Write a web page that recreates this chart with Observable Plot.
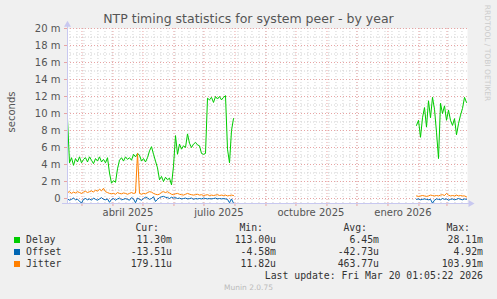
<!DOCTYPE html>
<html><head><meta charset="utf-8">
<script src="https://cdn.jsdelivr.net/npm/d3@7"></script>
<script src="https://cdn.jsdelivr.net/npm/@observablehq/plot@0.6"></script>
<style>
html,body{margin:0;padding:0;background:#f0f0f0;}
#wrap{position:relative;width:497px;height:299px;overflow:hidden;background:#f0f0f0;}
#chart{position:absolute;left:0;top:0;}
.t{position:absolute;white-space:pre;}
.title{left:0;width:497px;text-align:center;top:11px;font:12.5px "DejaVu Sans";color:#555;line-height:16px;}
.ylab{font:10px "DejaVu Sans";color:#555;left:11px;top:112px;transform:translate(-50%,-50%) rotate(-90deg);}
.rrd{font:7.5px "DejaVu Sans";color:#ccc;left:487px;top:53px;transform:translate(-50%,-50%) rotate(90deg);}
.lg{font:9.8px "DejaVu Sans Mono";color:#333;line-height:12px;}
.sq{position:absolute;width:6px;height:6px;}
.munin{left:0;width:497px;text-align:center;top:283px;font:7.5px "DejaVu Sans";color:#bbb;line-height:10px;}
</style>
</head><body>
<div id="wrap"></div>
<script>
// ---- data ----
const title = "NTP timing statistics for system peer - by year";
const yLabel = "seconds";
const domainStart = "2025-02-14T13:00:00Z";
const domainEnd = "2026-03-21T13:00:00Z";
const stepDays = 2;
const seg1Start = "2025-02-14T13:00:00Z";
const seg2Start = "2026-01-29T13:00:00Z";
// values in milliseconds (m)
const delay1 = [9.4,4.2,4.8,3.9,4.7,4.3,4.9,4.2,4.6,4.8,4.3,4.9,4.5,4.1,4.7,4.4,4.9,4.3,4.6,4.2,4.8,3.0,1.8,2.1,1.9,3.5,
  4.5,4.8,4.4,4.9,4.6,4.8,4.5,5.2,4.9,5.3,5.1,4.4,4.7,4.3,4.8,5.6,6.1,5.2,4.4,3.6,
  2.2,2.6,2.0,2.5,2.2,2.4,1.6,3.8,7.4,5.2,6.4,5.8,6.2,6.0,7.6,6.5,6.0,6.4,6.6,6.3,
  6.2,5.3,5.2,5.3,11.8,11.6,11.9,11.3,12.0,11.7,12.0,11.6,11.9,12.1,5.8,4.2,8.0,9.4];
const offset1 = [-0.05,-0.2,-0.1,0.05,-0.15,-0.1,-0.3,-0.55,-0.1,0.0,
  -0.15,-0.05,-0.2,0.05,-0.1,-0.2,-0.05,0.1,-0.1,-0.15,
  -0.05,-0.45,-0.1,0.0,-0.2,-0.05,0.05,-0.15,-0.1,0.0,
  -0.1,-0.2,0.1,-0.05,-0.5,0.05,-0.1,-0.2,0.0,0.15,
  0.05,-0.1,0.0,0.2,-0.35,-0.1,0.1,0.2,0.25,0.15,
  0.1,0.0,0.15,0.05,0.1,0.0,0.05,-0.05,0.0,0.05,
  -0.05,0.0,0.05,-0.1,0.0,-0.05,0.0,-0.05,0.05,0.0,
  -0.05,0.0,-0.05,0.0,0.05,-0.05,0.0,-0.05,0.0,-0.05,
  -0.1,-0.5,-0.05,-0.55];
const jitter1 = [0.7,0.8,0.6,0.75,0.65,0.8,0.7,0.6,0.75,0.85,
  0.7,0.8,0.9,0.75,1.0,0.85,1.1,0.9,1.2,0.8,
  0.7,0.6,0.55,0.6,0.5,0.7,0.6,0.55,0.65,0.6,
  0.5,0.6,0.7,0.6,0.65,5.3,0.6,0.5,0.6,0.55,
  0.7,0.8,0.75,0.6,0.5,0.45,0.5,0.75,0.8,0.7,
  0.8,0.65,0.5,0.45,0.55,0.6,0.5,0.45,0.4,0.5,
  0.6,0.5,0.45,0.4,0.45,0.5,0.4,0.45,0.35,0.4,
  0.45,0.35,0.4,0.35,0.4,0.45,0.35,0.4,0.35,0.4,
  0.3,0.35,0.4,0.35];
const delay2 = [8.6,9.2,7.2,9.5,10.7,8.4,11.5,9.5,11.9,10.5,7.8,4.7,11.2,10.0,10.9,9.2,10.4,9.2,8.6,9.4,7.5,8.8,9.8,10.6,11.9,11.3];
const offset2 = [-0.1,-0.05,-0.15,-0.1,-0.05,-0.1,-0.15,-0.1,-0.55,-0.2,-0.05,-0.1,-0.15,0.0,-0.1,-0.05,-0.2,-0.1,-0.05,-0.15,-0.1,0.0,-0.1,-0.15,-0.05,-0.1];
const jitter2 = [0.3,0.25,0.3,0.35,0.3,0.25,0.3,0.4,0.35,0.3,0.35,0.3,0.4,0.45,0.35,0.6,0.4,0.3,0.35,0.3,0.4,0.3,0.35,0.3,0.3,0.2];

const yTicks = [0,2,4,6,8,10,12,14,16,18,20];
const yTickLabels = ["0","2 m","4 m","6 m","8 m","10 m","12 m","14 m","16 m","18 m","20 m"];
const yMinorTicks = [1,3,5,7,9,11,13,15,17,19];
const xLabelDates = ["2025-04-16T00:00:00Z","2025-07-16T00:00:00Z","2025-10-16T00:00:00Z","2026-01-16T00:00:00Z"];
const xLabels = ["abril 2025","julio 2025","octubre 2025","enero 2026"];

const seriesNames = ["Delay","Offset","Jitter"];
const seriesColors = ["#00cc00","#0066b3","#ff8000"];
const curVals = ["11.30m","-13.51u","179.11u"];
const minVals = ["113.00u","-4.58m","11.82u"];
const avgVals = ["6.45m","-42.73u","463.77u"];
const maxVals = ["28.11m","4.92m","103.91m"];
const lastUpdate = "Last update: Fri Mar 20 01:05:22 2026";
const sideText = "RRDTOOL / TOBI OETIKER";
const footer = "Munin 2.0.75";

// ---- build rows ----
const DAY = 86400000;
function rows(vals, startStr, seg) {
  const s = new Date(startStr).getTime();
  return vals.map((v, i) => ({date: new Date(s + i * stepDays * DAY), v, seg}));
}
const delayRows = [...rows(delay1, seg1Start, 1), ...rows(delay2, seg2Start, 2)];
const offsetRows = [...rows(offset1, seg1Start, 1), ...rows(offset2, seg2Start, 2)];
const jitterRows = [...rows(jitter1, seg1Start, 1), ...rows(jitter2, seg2Start, 2)];

const x0 = new Date(domainStart), x1 = new Date(domainEnd);
const yMin = -0.588, yMax = 20;
const months = d3.utcMonth.range(x0, x1);
const weeks = d3.utcMonday.range(x0, x1);
const axisCol = "#c8c8f0";
const majCol = "#e8a4a4";
const minCol = "#d2d2d2";

const chart = Plot.plot({
  width: 497, height: 215,
  marginLeft: 67, marginRight: 30, marginTop: 28, marginBottom: 12,
  x: {type: "utc", domain: [x0, x1]},
  y: {domain: [yMin, yMax]},
  style: {background: "transparent", fontFamily: "DejaVu Sans", fontSize: "10px", color: "#555", overflow: "visible"},
  marks: [
    Plot.frame({fill: "white", stroke: "none"}),
    Plot.gridX({ticks: weeks, stroke: minCol, strokeOpacity: 1, strokeDasharray: "1,2"}),
    Plot.gridY({ticks: yMinorTicks, stroke: minCol, strokeOpacity: 1, strokeDasharray: "1,2"}),
    Plot.gridX({ticks: months, stroke: majCol, strokeOpacity: 1, strokeDasharray: "1,2"}),
    Plot.gridY({ticks: yTicks, stroke: majCol, strokeOpacity: 1, strokeDasharray: "1,2"}),
    Plot.axisY({ticks: yTicks, tickFormat: (d, i) => yTickLabels[yTicks.indexOf(d)], tickSize: 3, tickPadding: 4, stroke: majCol, fill: "#555", label: null}),
    Plot.axisX({ticks: months, tickSize: 3, tickFormat: () => "", stroke: majCol, label: null}),
    Plot.axisX({ticks: xLabelDates.map(d => new Date(d)), tickSize: 0, tickPadding: 5, tickFormat: d => xLabels[xLabelDates.findIndex(s => new Date(s).getTime() === d.getTime())], fill: "#555", label: null}),
    Plot.line(delayRows, {x: "date", y: "v", z: "seg", stroke: seriesColors[0], strokeWidth: 1}),
    Plot.line(offsetRows, {x: "date", y: "v", z: "seg", stroke: seriesColors[1], strokeWidth: 1}),
    Plot.line(jitterRows, {x: "date", y: "v", z: "seg", stroke: seriesColors[2], strokeWidth: 1}),
    Plot.ruleX([x0], {y1: yMin, y2: 20.45, stroke: axisCol, strokeWidth: 1, clip: false}),
    Plot.ruleY([yMin], {x1: new Date(x0.getTime() - 5 * DAY), x2: new Date(x1.getTime() + 2 * DAY), stroke: axisCol, strokeWidth: 1}),
    Plot.dot([{x: x0, y: 20.45}], {x: "x", y: "y", symbol: "triangle", r: 2.6, fill: axisCol, stroke: "none"}),
    Plot.dot([{x: new Date(x1.getTime() + 3 * DAY), y: yMin}], {x: "x", y: "y", symbol: "triangle", r: 2.6, fill: axisCol, stroke: "none", rotate: 90})
  ]
});
chart.id = "chart";
const wrap = document.getElementById("wrap");
wrap.appendChild(chart);

function addText(cls, text, styles) {
  const el = document.createElement("div");
  el.className = "t " + cls;
  el.textContent = text;
  Object.assign(el.style, styles || {});
  wrap.appendChild(el);
  return el;
}
addText("title", title);
addText("ylab", yLabel);
addText("rrd", sideText);
addText("munin", footer);

// legend
const colRight = [172, 276, 379, 483];
const headers = ["Cur:", "Min:", "Avg:", "Max:"];
const headerRight = [159, 263, 367, 470];
headers.forEach((h, i) => addText("lg", h, {right: (497 - headerRight[i]) + "px", top: "222px"}));
const cols = [curVals, minVals, avgVals, maxVals];
seriesNames.forEach((name, r) => {
  const top = 234 + r * 12;
  const sq = document.createElement("div");
  sq.className = "sq";
  Object.assign(sq.style, {left: "14px", top: (top + 3) + "px", background: seriesColors[r]});
  wrap.appendChild(sq);
  addText("lg", name, {left: "26px", top: top + "px"});
  cols.forEach((c, j) => addText("lg", c[r], {right: (497 - colRight[j]) + "px", top: top + "px"}));
});
addText("lg", lastUpdate, {right: (497 - 483) + "px", top: "270px"});
</script>
</body></html>
